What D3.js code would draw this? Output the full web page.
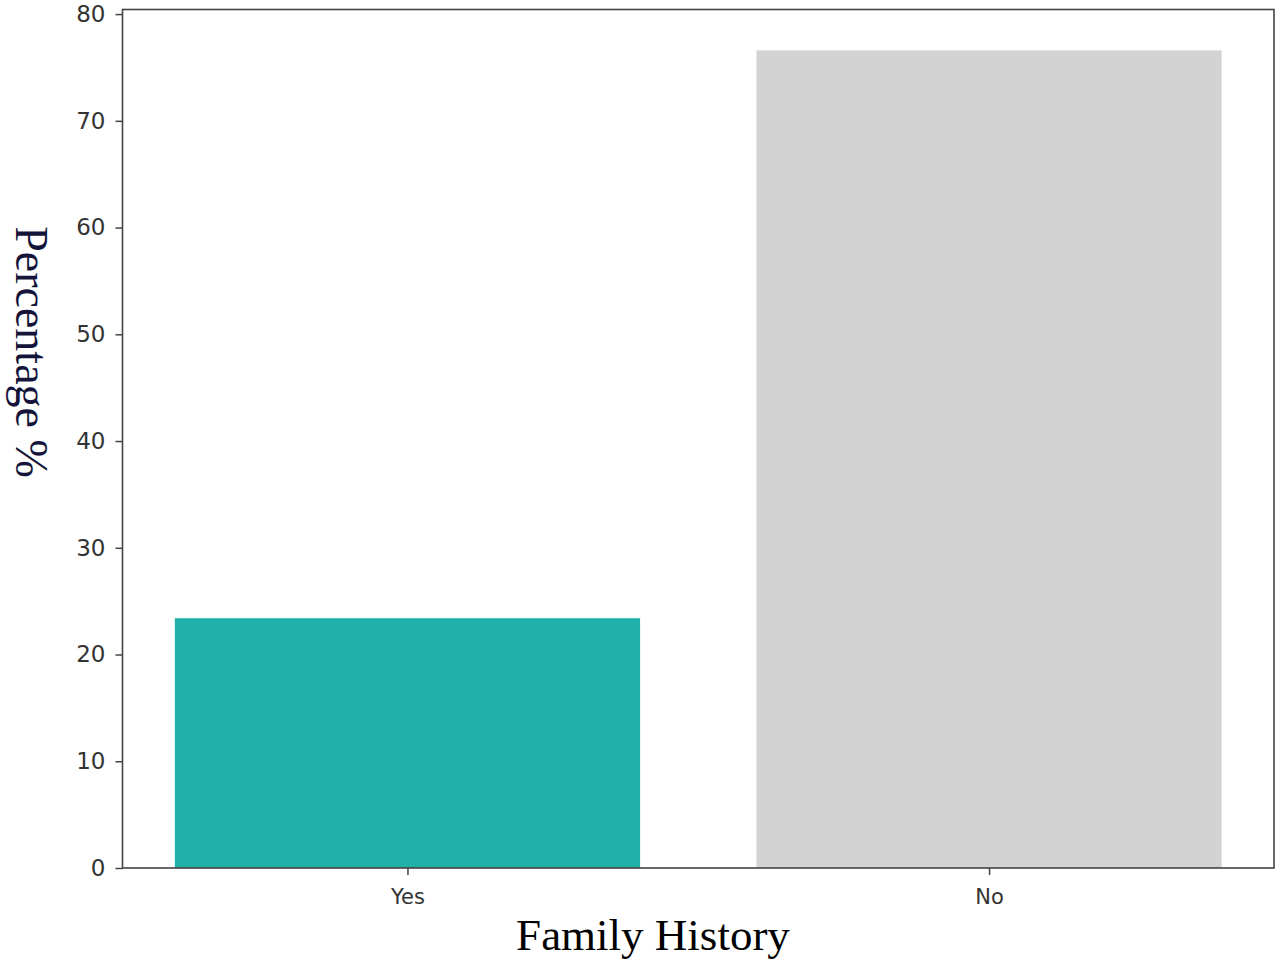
<!DOCTYPE html>
<html>
<head>
<meta charset="utf-8">
<script src="https://cdn.jsdelivr.net/npm/d3@7"></script>
<style>
  body { margin: 0; background: #fff; }
  svg { display: block; }
</style>
</head>
<body>
<div id="chart"></div>
<script>
var categories = ["Yes", "No"];
var percentages = [23.4, 76.6];
var barColors = ["#20b2aa", "#d3d3d3"];
var yTicks = [0, 10, 20, 30, 40, 50, 60, 70, 80];

var width = 1280,
    height = 964;
var margin = {left: 122.5, right: 6, top: 9.5, bottom: 96};

var svg = d3.select("#chart")
    .append("svg")
    .attr("width", width)
    .attr("height", height);

// matplotlib-style bar positions: centres at 0,1, bar width 0.8, 5% margins
var x = d3.scaleLinear()
    .domain([-0.49, 1.49])
    .range([margin.left, width - margin.right]);
var y = d3.scaleLinear()
    .domain([0, 76.6 * 1.05])
    .range([height - margin.bottom, margin.top]);

svg.selectAll("rect.bar")
    .data(percentages)
    .enter()
    .append("rect")
    .attr("class", "bar")
    .attr("x", function(d, i) { return x(i - 0.4); })
    .attr("width", function(d, i) { return x(i + 0.4) - x(i - 0.4); })
    .attr("y", function(d) { return y(d); })
    .attr("height", function(d) { return y(0) - y(d); })
    .attr("fill", function(d, i) { return barColors[i]; });

var yAxis = svg.append("g")
    .attr("transform", "translate(" + margin.left + ",0)")
    .call(d3.axisLeft(y).tickValues(yTicks).tickSize(7).tickPadding(10));
yAxis.selectAll("text")
    .attr("font-family", "DejaVu Sans")
    .attr("font-size", 23)
    .attr("fill", "#333");

var xAxis = svg.append("g")
    .attr("transform", "translate(0," + y(0) + ")")
    .call(d3.axisBottom(x).tickValues([0, 1])
      .tickFormat(function(d) { return categories[d]; })
      .tickSize(7).tickPadding(14));
xAxis.selectAll("text")
    .attr("font-family", "DejaVu Sans")
    .attr("font-size", 21)
    .attr("fill", "#333");

svg.selectAll(".domain").remove();
svg.selectAll(".tick line").attr("stroke", "#444").attr("stroke-width", 1.5);

// frame
svg.append("rect")
    .attr("x", margin.left)
    .attr("y", margin.top)
    .attr("width", width - margin.right - margin.left)
    .attr("height", y(0) - margin.top)
    .attr("fill", "none")
    .attr("stroke", "#444")
    .attr("stroke-width", 1.6);

svg.append("text")
    .attr("x", 653)
    .attr("y", 950)
    .attr("text-anchor", "middle")
    .attr("font-family", "Liberation Serif")
    .attr("font-size", 45)
    .attr("fill", "#000")
    .text("Family History");

svg.append("text")
    .attr("transform", "translate(16,352) rotate(90)")
    .attr("text-anchor", "middle")
    .attr("font-family", "Liberation Serif")
    .attr("font-size", 46)
    .attr("fill", "#14143a")
    .text("Percentage %");
</script>
</body>
</html>
